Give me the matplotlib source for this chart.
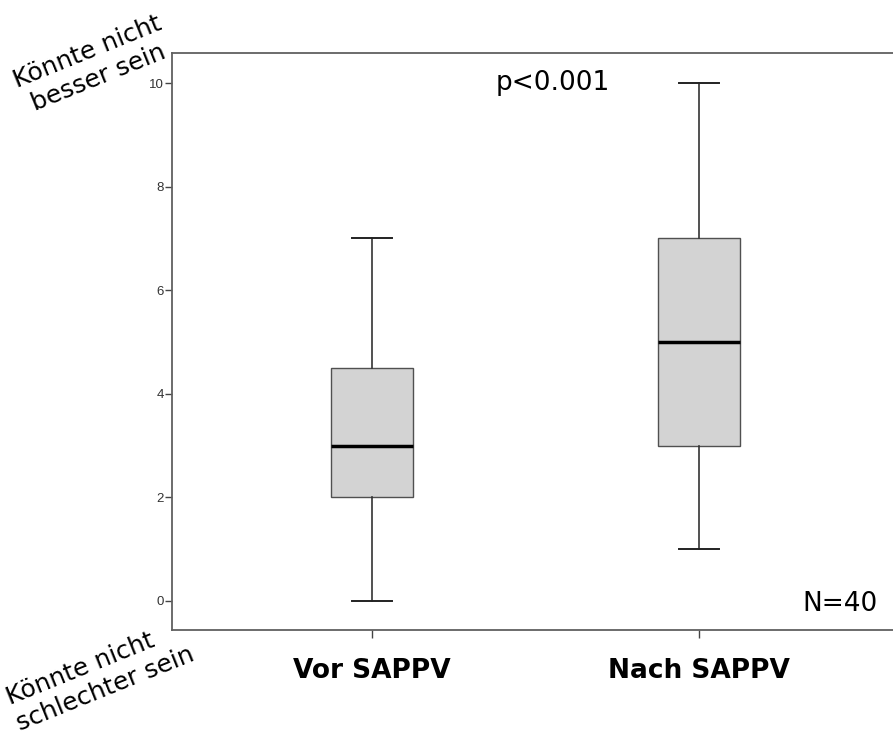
import matplotlib
matplotlib.use("Agg")
import matplotlib.pyplot as plt

# box statistics (scale 0-10)
groups = ["Vor SAPPV", "Nach SAPPV"]
whisker_low = [0, 1]
q1 = [2, 3]
median = [3, 5]
q3 = [4.5, 7]
whisker_high = [7, 10]
yticks = [0, 2, 4, 6, 8, 10]


def main():
    fig = plt.figure(figsize=(8.93, 7.37), dpi=100)
    W, H = 893, 737
    left, right, top, bottom = 172, 893, 53, 630
    ax = fig.add_axes([left / W, 1 - bottom / H, (right - left) / W, (bottom - top) / H])

    stats = []
    for i, name in enumerate(groups):
        stats.append(dict(label=name, whislo=whisker_low[i], q1=q1[i], med=median[i],
                          q3=q3[i], whishi=whisker_high[i], fliers=[]))

    ax.bxp(stats, positions=[1, 2], widths=0.248, patch_artist=True, showfliers=False,
           boxprops=dict(facecolor="#d3d3d3", edgecolor="#505050", linewidth=1.0),
           medianprops=dict(color="black", linewidth=2.5),
           whiskerprops=dict(color="#333333", linewidth=1.2),
           capprops=dict(color="#222222", linewidth=1.4),
           capwidths=0.125)

    ax.set_xlim(1 - 200 / 327, 2 + 194 / 327)
    ax.set_ylim(-0.56, 10.58)
    ax.set_yticks(yticks)
    ax.set_yticklabels([str(t) for t in yticks], fontsize=9.5, color="#333333",
                       family="Liberation Sans")
    ax.set_xticks([1, 2])
    ax.set_xticklabels(groups, fontsize=19, fontweight="bold")
    ax.tick_params(axis="y", length=5, width=1, color="#444444", pad=1)
    ax.tick_params(axis="x", length=6, width=1, color="#444444", pad=14)

    ax.spines["right"].set_visible(False)
    for s in ["left", "bottom", "top"]:
        ax.spines[s].set_color("#606060")
        ax.spines[s].set_linewidth(1.3)

    ax.text(1.553, 10, "p<0.001", fontsize=19, ha="center", va="center")
    ax.text(2.43, -0.05, "N=40", fontsize=19, ha="center", va="center")

    fig.text(93 / W, 1 - 65 / H, "Könnte nicht\nbesser sein", fontsize=18,
             rotation=22, ha="center", va="center", rotation_mode="anchor",
             multialignment="center")
    fig.text(100 / W, 1 - 676 / H, "Könnte nicht\nschlechter sein", fontsize=18,
             rotation=22, ha="center", va="center", rotation_mode="anchor",
             multialignment="left")

    fig.savefig("out.png", dpi=100)


if __name__ == "__main__":
    main()
